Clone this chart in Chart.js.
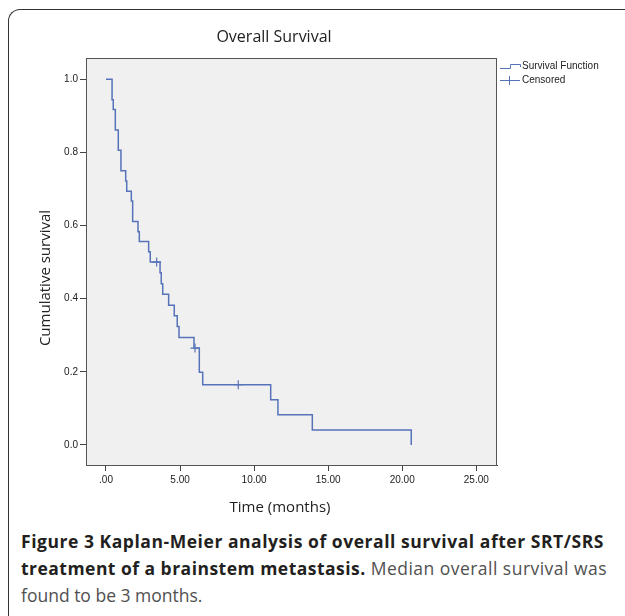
<!DOCTYPE html>
<html>
<head>
<meta charset="utf-8">
<title>Overall Survival</title>
<script src="https://cdn.jsdelivr.net/npm/chart.js@4.4.1/dist/chart.umd.min.js"></script>
<style>
  html, body {
    margin: 0;
    padding: 0;
    background: #fff;
    width: 625px;
    height: 616px;
    overflow: hidden;
  }
  .frame {
    position: absolute;
    left: 8px;
    top: 9px;
    width: 700px;
    height: 700px;
    border-left: 1.5px solid #333;
    border-top: 1.5px solid #333;
    border-top-left-radius: 12px;
  }
  #survivalChart {
    position: absolute;
    left: 0;
    top: 0;
  }
  .caption {
    position: absolute;
    left: 21px;
    top: 528px;
    font-family: 'Open Sans', sans-serif;
    font-size: 17.5px;
    line-height: 27px;
    color: #505050;
  }
  .caption .line {
    display: inline-block;
    white-space: nowrap;
  }
  .caption b {
    color: #231f20;
  }
</style>
</head>
<body>
<div class="frame"></div>
<canvas id="survivalChart" width="625" height="520"></canvas>
<div class="caption">
  <span class="line" data-width="583"><b>Figure 3 Kaplan-Meier analysis of overall survival after SRT/SRS</b></span><br>
  <span class="line" data-width="586"><b>treatment of a brainstem metastasis.</b> Median overall survival was</span><br>
  <span class="line">found to be 3 months.</span>
</div>
<script>
// Kaplan-Meier step points (time in months, cumulative survival)
const TIMES = [0, 0.41, 0.49, 0.63, 0.83, 1.01, 1.33, 1.40, 1.71, 1.80, 2.16, 2.25, 2.88, 2.99,
  3.65, 3.73, 3.83, 4.23, 4.61, 4.81, 4.93, 5.94, 6.30, 6.53, 11.12, 11.61, 13.93, 20.61]
const SURVIVAL = [1, 0.944, 0.917, 0.861, 0.806, 0.75, 0.722, 0.694, 0.667, 0.611, 0.583, 0.556, 0.528, 0.5,
  0.471, 0.441, 0.412, 0.382, 0.353, 0.324, 0.294, 0.265, 0.199, 0.165, 0.124, 0.083, 0.041, 0]
const CENSOR_TIMES = [3.42, 6.01, 8.93]
const CENSOR_SURVIVAL = [0.5, 0.265, 0.165]
const X_TICKS = [0, 5, 10, 15, 20, 25]
const Y_TICKS = [0, 0.2, 0.4, 0.6, 0.8, 1.0]

const LINE_COLOR = '#5673b9'
const AXIS_COLOR = '#444'
const TEXT_COLOR = '#222'

function toPoints(xs, ys) {
  return xs.map((x, i) => ({ x: x, y: ys[i] }))
}

function formatTime(value) {
  return value === 0 ? '.00' : value.toFixed(2)
}

const plotDecor = {
  id: 'plotDecor',
  beforeDraw(chart) {
    const { ctx, chartArea } = chart
    ctx.save()
    ctx.fillStyle = '#f0f0f0'
    ctx.fillRect(chartArea.left, chartArea.top, chartArea.width, chartArea.height)
    ctx.restore()
  },
  afterDraw(chart) {
    const { ctx, chartArea } = chart
    ctx.save()
    ctx.strokeStyle = '#555'
    ctx.lineWidth = 1
    ctx.strokeRect(chartArea.left + 0.5, chartArea.top + 0.5, chartArea.width - 1, chartArea.height)

    // titles
    ctx.fillStyle = TEXT_COLOR
    ctx.textAlign = 'center'
    ctx.textBaseline = 'middle'
    ctx.font = '16px "Open Sans"'
    ctx.fillText('Overall Survival', 274, 37)
    ctx.font = '15px "Open Sans"'
    ctx.fillText('Time (months)', 280, 508)
    ctx.save()
    ctx.translate(46, 278)
    ctx.rotate(-Math.PI / 2)
    ctx.fillText('Cumulative survival', 0, 0)
    ctx.restore()

    // legend
    ctx.strokeStyle = LINE_COLOR
    ctx.lineWidth = 1
    ctx.beginPath()
    ctx.moveTo(500, 68.5)
    ctx.lineTo(510.5, 68.5)
    ctx.lineTo(510.5, 64.5)
    ctx.lineTo(520.5, 64.5)
    ctx.lineTo(520.5, 67)
    ctx.moveTo(500, 80.5)
    ctx.lineTo(520, 80.5)
    ctx.moveTo(509.5, 76)
    ctx.lineTo(509.5, 85)
    ctx.stroke()
    ctx.fillStyle = TEXT_COLOR
    ctx.textAlign = 'left'
    ctx.font = '10px "Liberation Sans", Arial'
    ctx.fillText('Survival Function', 522, 66.5)
    ctx.fillText('Censored', 522, 80)
    ctx.restore()
  },
}

function initializeChart() {
  const canvas = document.getElementById('survivalChart')
  if (!canvas || typeof Chart === 'undefined') {
    return null
  }

  const tickFont = { family: '"Liberation Sans", Arial', size: 10 }

  return new Chart(canvas, {
    type: 'scatter',
    data: {
      datasets: [
        {
          label: 'Survival Function',
          data: toPoints(TIMES, SURVIVAL),
          showLine: true,
          stepped: 'before',
          borderColor: LINE_COLOR,
          borderWidth: 1.5,
          pointRadius: 0,
          fill: false,
        },
        {
          label: 'Censored',
          data: toPoints(CENSOR_TIMES, CENSOR_SURVIVAL),
          showLine: false,
          pointStyle: 'cross',
          pointRadius: 4.5,
          borderColor: LINE_COLOR,
          borderWidth: 1.2,
        },
      ],
    },
    options: {
      responsive: false,
      animation: false,
      layout: {
        padding: { top: 58, right: 128, bottom: 0, left: 0 },
      },
      plugins: {
        legend: { display: false },
        tooltip: { enabled: false },
      },
      scales: {
        x: {
          type: 'linear',
          min: -1.35,
          max: 26.4,
          afterBuildTicks: (scale) => {
            scale.ticks = X_TICKS.map((value) => ({ value: value }))
          },
          afterFit: (scale) => {
            scale.height = 55
          },
          grid: {
            drawOnChartArea: false,
            tickLength: 6,
            color: AXIS_COLOR,
          },
          border: { color: AXIS_COLOR },
          ticks: {
            font: tickFont,
            color: TEXT_COLOR,
            padding: 3,
            maxRotation: 0,
            callback: (value) => formatTime(value),
          },
        },
        y: {
          type: 'linear',
          min: -0.0547,
          max: 1.058,
          afterBuildTicks: (scale) => {
            scale.ticks = Y_TICKS.map((value) => ({ value: value }))
          },
          afterFit: (scale) => {
            scale.width = 86
          },
          grid: {
            drawOnChartArea: false,
            tickLength: 6,
            color: AXIS_COLOR,
          },
          border: { color: AXIS_COLOR },
          ticks: {
            font: tickFont,
            color: TEXT_COLOR,
            padding: 2,
            callback: (value) => value.toFixed(1),
          },
        },
      },
    },
    plugins: [plotDecor],
  })
}

function fitCaptionLines() {
  const lines = document.querySelectorAll('.caption .line[data-width]')
  lines.forEach((line) => {
    const target = Number(line.dataset.width)
    const width = line.getBoundingClientRect().width
    const chars = line.textContent.length
    if (chars > 1) {
      line.style.letterSpacing = `${(target - width) / chars}px`
    }
  })
}

globalThis.addEventListener('DOMContentLoaded', () => {
  initializeChart()
  fitCaptionLines()
})
</script>
</body>
</html>
